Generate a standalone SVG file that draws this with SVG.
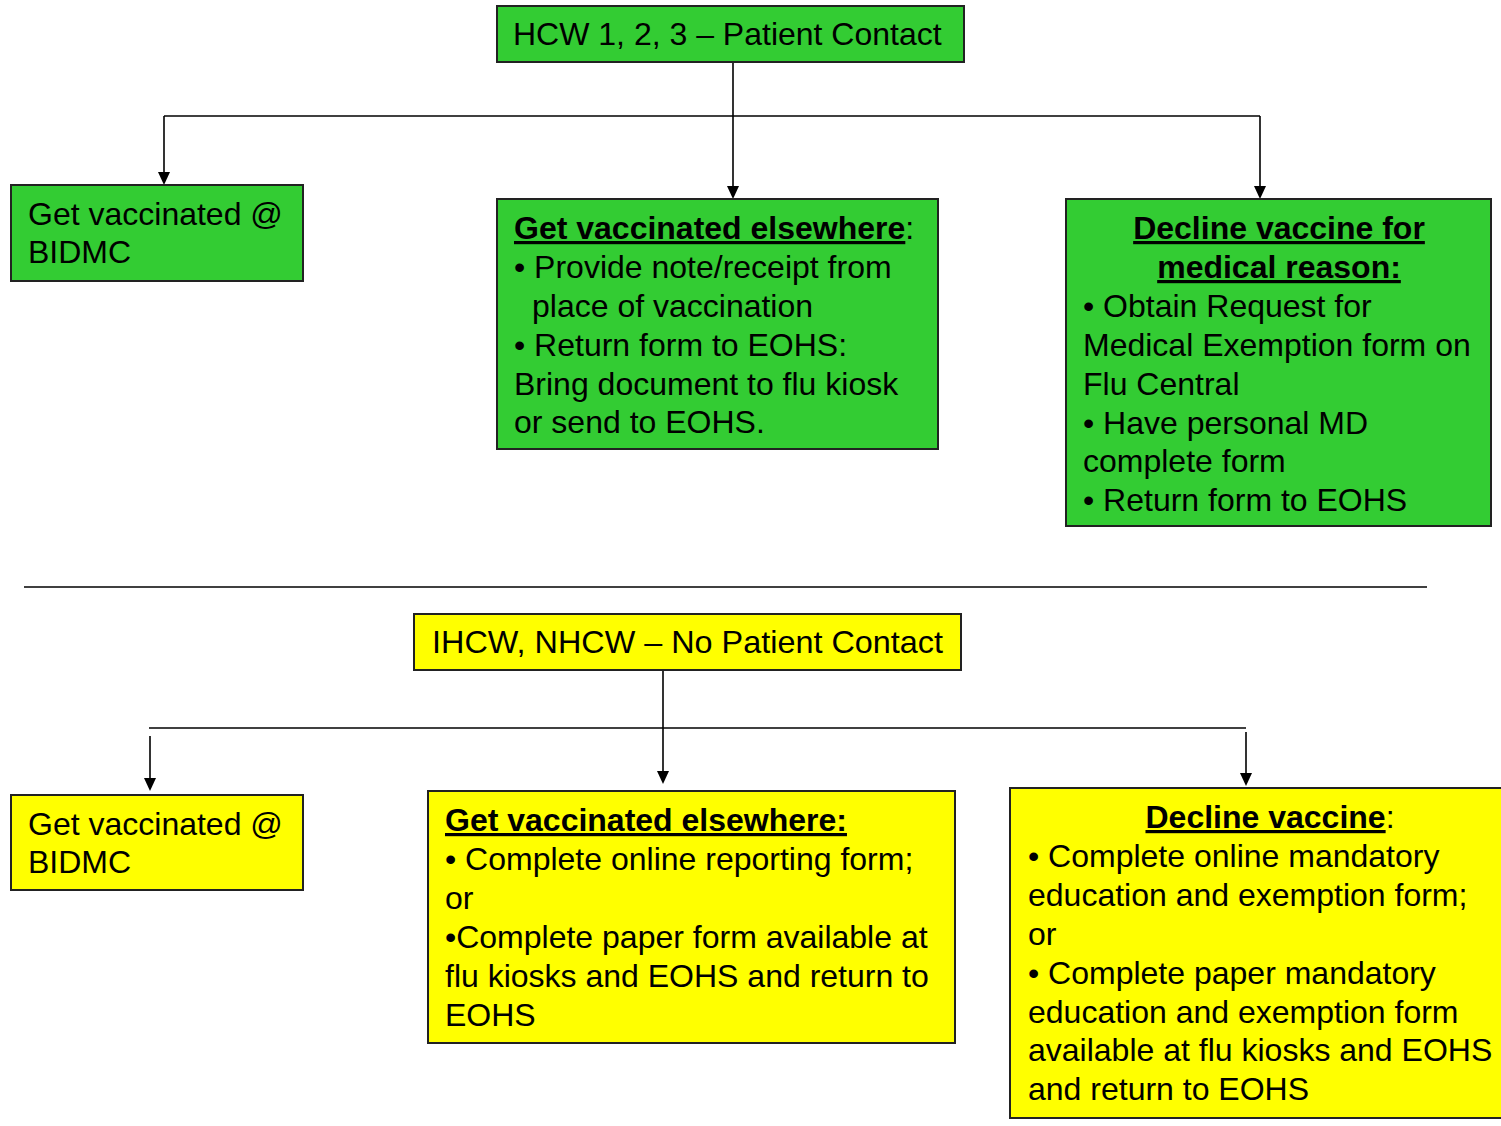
<svg xmlns="http://www.w3.org/2000/svg" width="1501" height="1126" viewBox="0 0 1501 1126">
<style>
.g{fill:#33CC33;stroke:#222;stroke-width:2}
.y{fill:#FFFF00;stroke:#222;stroke-width:2}
text{font-family:"Liberation Sans",Arial,sans-serif;font-size:32px;fill:#000}
.b{font-weight:bold;text-decoration:underline}
.c{stroke:#000;stroke-width:1.6;fill:none}
</style>
<rect x="0" y="0" width="1501" height="1126" fill="#fff"/>
<g id="connectors">
<path class="c" d="M733,62 V188"/>
<path class="c" d="M164,116 H1260"/>
<path class="c" d="M164,116 V174"/>
<path class="c" d="M1260,116 V188"/>
<path d="M727,186 L739,186 L733,199 Z"/>
<path d="M158,172 L170,172 L164,185 Z"/>
<path d="M1254,186 L1266,186 L1260,199 Z"/>
<path class="c" d="M24,587 H1427" stroke-width="2"/>
<path class="c" d="M663,670 V773"/>
<path class="c" d="M149,728 H1246"/>
<path class="c" d="M150,736 V780"/>
<path class="c" d="M1246,732 V775"/>
<path d="M657,771 L669,771 L663,784 Z"/>
<path d="M144,778 L156,778 L150,791 Z"/>
<path d="M1240,773 L1252,773 L1246,786 Z"/>
</g>
<g id="n-hcw">
<rect class="g" x="497" y="6" width="467" height="56"/>
<text x="513" y="45">HCW 1, 2, 3 – Patient Contact</text>
</g>
<g id="n-g-bidmc">
<rect class="g" x="11" y="185" width="292" height="96"/>
<text x="28" y="225">Get vaccinated @</text>
<text x="28" y="263">BIDMC</text>
</g>
<g id="n-g-else">
<rect class="g" x="497" y="199" width="441" height="250"/>
<text x="514" y="239"><tspan class="b">Get vaccinated elsewhere</tspan>:</text>
<text x="514" y="278">• Provide note/receipt from</text>
<text x="532" y="317">place of vaccination</text>
<text x="514" y="356">• Return form to EOHS:</text>
<text x="514" y="395">Bring document to flu kiosk</text>
<text x="514" y="433">or send to EOHS.</text>
</g>
<g id="n-g-decline">
<rect class="g" x="1066" y="199" width="425" height="327"/>
<text x="1279" y="239" text-anchor="middle" class="b">Decline vaccine for</text>
<text x="1279" y="278" text-anchor="middle" class="b">medical reason:</text>
<text x="1083" y="317">• Obtain Request for</text>
<text x="1083" y="356">Medical Exemption form on</text>
<text x="1083" y="395">Flu Central</text>
<text x="1083" y="434">• Have personal MD</text>
<text x="1083" y="472">complete form</text>
<text x="1083" y="511">• Return form to EOHS</text>
</g>
<g id="n-ihcw">
<rect class="y" x="414" y="614" width="547" height="56"/>
<text x="432" y="653" textLength="511" lengthAdjust="spacingAndGlyphs">IHCW, NHCW – No Patient Contact</text>
</g>
<g id="n-y-bidmc">
<rect class="y" x="11" y="795" width="292" height="95"/>
<text x="28" y="835">Get vaccinated @</text>
<text x="28" y="873">BIDMC</text>
</g>
<g id="n-y-else">
<rect class="y" x="428" y="791" width="527" height="252"/>
<text x="445" y="831" class="b">Get vaccinated elsewhere:</text>
<text x="445" y="870">• Complete online reporting form;</text>
<text x="445" y="909">or</text>
<text x="445" y="948">•Complete paper form available at</text>
<text x="445" y="987">flu kiosks and EOHS and return to</text>
<text x="445" y="1026">EOHS</text>
</g>
<g id="n-y-decline">
<rect class="y" x="1010" y="788" width="495" height="330"/>
<text x="1270" y="828" text-anchor="middle"><tspan class="b">Decline vaccine</tspan>:</text>
<text x="1028" y="867">• Complete online mandatory</text>
<text x="1028" y="906">education and exemption form;</text>
<text x="1028" y="945">or</text>
<text x="1028" y="984">• Complete paper mandatory</text>
<text x="1028" y="1023">education and exemption form</text>
<text x="1028" y="1061">available at flu kiosks and EOHS</text>
<text x="1028" y="1100">and return to EOHS</text>
</g>
</svg>
